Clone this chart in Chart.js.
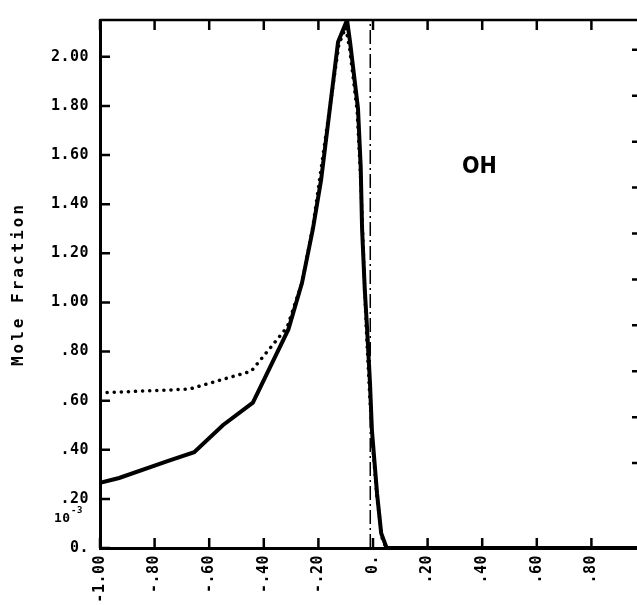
<!DOCTYPE html>
<html>
<head>
<meta charset="utf-8">
<script src="https://cdn.jsdelivr.net/npm/chart.js@4/dist/chart.umd.min.js"></script>
<style>
body{margin:0;background:#fff;overflow:hidden}
#wrap{width:665px;height:605px}
</style>
</head>
<body>
<div id="wrap"><canvas id="myChart" width="665" height="605"></canvas></div>
<script>
// axis ticks
var xTicks = [-1.0,-0.8,-0.6,-0.4,-0.2,0,0.2,0.4,0.6,0.8];
var xTickLabels = ["-1.00","-.80","-.60","-.40","-.20","0.",".20",".40",".60",".80"];
var yTicks = [0,0.2,0.4,0.6,0.8,1.0,1.2,1.4,1.6,1.8,2.0];
var yTickLabels = ["0.",".20",".40",".60",".80","1.00","1.20","1.40","1.60","1.80","2.00"];
var rightTicks = [400,600,800,1000,1200,1400,1600,1800,2000,2200];

// solid curve
var solidX = [-1.0,-0.93,-0.75,-0.655,-0.55,-0.44,-0.31,-0.26,-0.22,-0.19,-0.158,-0.128,-0.095,-0.084,-0.055,-0.045,-0.04,-0.03,-0.022,-0.011,-0.004,0.015,0.03,0.05,1.0];
var solidY = [0.265,0.285,0.355,0.39,0.50,0.592,0.89,1.08,1.30,1.50,1.79,2.06,2.15,2.06,1.79,1.55,1.30,1.05,0.90,0.67,0.48,0.22,0.06,0.0,0.0];

// dotted curve
var dotX = [-1.0,-0.736,-0.67,-0.446,-0.314,-0.26,-0.22,-0.16,-0.125,-0.10,-0.085,-0.058,-0.045,-0.035,-0.025,-0.012,0.0,0.015,0.035,0.05];
var dotY = [0.632,0.644,0.648,0.72,0.90,1.08,1.31,1.78,2.05,2.12,2.03,1.78,1.50,1.20,0.90,0.62,0.40,0.20,0.03,0.0];

// dash-dot marker line
var markX = [-0.01,-0.01];
var markY = [0,2.15];

function pts(xs,ys){
  var out = [];
  for(var i=0;i<xs.length;i++){ out.push({x:xs[i],y:ys[i]}); }
  return out;
}
function lookup(vals,labels,v){
  for(var i=0;i<vals.length;i++){ if(Math.abs(vals[i]-v)<1e-6) return labels[i]; }
  return "";
}

var tickFont = {family:"DejaVu Sans Mono",weight:"bold",size:15};

var framePlugin = {
  id:"frame",
  beforeDraw:function(chart){
    chart.ctx.letterSpacing = "0.5px";
  },
  afterDraw:function(chart){
    var ctx = chart.ctx, a = chart.chartArea;
    var sx = chart.scales.x, sy = chart.scales.y, sy2 = chart.scales.y2;
    ctx.save();
    ctx.strokeStyle = "#000";
    ctx.lineWidth = 2.5;
    ctx.beginPath();
    ctx.moveTo(a.left,a.top); ctx.lineTo(a.right,a.top);
    ctx.moveTo(a.right,a.top); ctx.lineTo(a.right,a.bottom);
    xTicks.forEach(function(v){
      var px = sx.getPixelForValue(v);
      ctx.moveTo(px,a.bottom); ctx.lineTo(px,a.bottom-10);
      ctx.moveTo(px,a.top); ctx.lineTo(px,a.top+10);
    });
    yTicks.forEach(function(v){
      var py = sy.getPixelForValue(v);
      ctx.moveTo(a.left,py); ctx.lineTo(a.left+10,py);
    });
    rightTicks.forEach(function(v){
      var py = sy2.getPixelForValue(v);
      ctx.moveTo(a.right,py); ctx.lineTo(a.right-14,py);
    });
    ctx.stroke();

    ctx.fillStyle = "#000";
    // y title
    ctx.save();
    ctx.letterSpacing = "3px";
    ctx.translate(19,(a.top+a.bottom)/2);
    ctx.rotate(-Math.PI/2);
    ctx.font = "bold 16px 'DejaVu Sans Mono'";
    ctx.textAlign = "center";
    ctx.textBaseline = "middle";
    ctx.fillText("Mole Fraction",0,0);
    ctx.restore();

    // 10^-3 exponent note
    ctx.letterSpacing = "0.5px";
    ctx.font = "bold 13px 'DejaVu Sans Mono'";
    ctx.textAlign = "left";
    ctx.textBaseline = "middle";
    ctx.fillText("10",54,519);
    ctx.font = "bold 9px 'DejaVu Sans Mono'";
    ctx.fillText("-3",71,511);

    // species label
    ctx.letterSpacing = "0px";
    ctx.font = "bold 23px 'DejaVu Sans Condensed'";
    ctx.textAlign = "center";
    ctx.fillText("OH",sx.getPixelForValue(0.39),sy.getPixelForValue(1.55));
    ctx.restore();
  }
};

const myChart = new Chart("myChart", {
  type:"line",
  data:{datasets:[
    {data:pts(solidX,solidY),borderColor:"#000",borderWidth:4,pointRadius:0,tension:0,fill:false},
    {data:pts(dotX,dotY),borderColor:"#000",borderWidth:3.5,borderDash:[0.1,7],borderCapStyle:"round",pointRadius:0,tension:0,fill:false},
    {data:pts(markX,markY),borderColor:"#000",borderWidth:1.5,borderDash:[14,4,2,4],pointRadius:0,fill:false}
  ]},
  options:{
    responsive:false,
    animation:false,
    layout:{padding:{top:12,right:19,left:0,bottom:0}},
    plugins:{legend:{display:false},tooltip:{enabled:false}},
    scales:{
      x:{
        type:"linear",min:-1.0,max:1.0,
        afterBuildTicks:function(s){ s.ticks = xTicks.map(function(v){return {value:v};}); },
        afterFit:function(s){ s.height = 57; },
        ticks:{minRotation:90,maxRotation:90,autoSkip:false,padding:7,color:"#000",font:tickFont,
          callback:function(v){ return lookup(xTicks,xTickLabels,v); }},
        grid:{display:false,drawTicks:false},
        border:{display:true,color:"#000",width:3}
      },
      y:{
        min:0,max:2.15,
        afterBuildTicks:function(s){ s.ticks = yTicks.map(function(v){return {value:v};}); },
        afterFit:function(s){ s.width = 100; },
        ticks:{padding:11,color:"#000",font:tickFont,
          callback:function(v){ return lookup(yTicks,yTickLabels,v); }},
        grid:{display:false,drawTicks:false},
        border:{display:true,color:"#000",width:3}
      },
      y2:{display:false,min:30,max:2330,position:"right"}
    }
  },
  plugins:[framePlugin]
});
</script>
</body>
</html>
